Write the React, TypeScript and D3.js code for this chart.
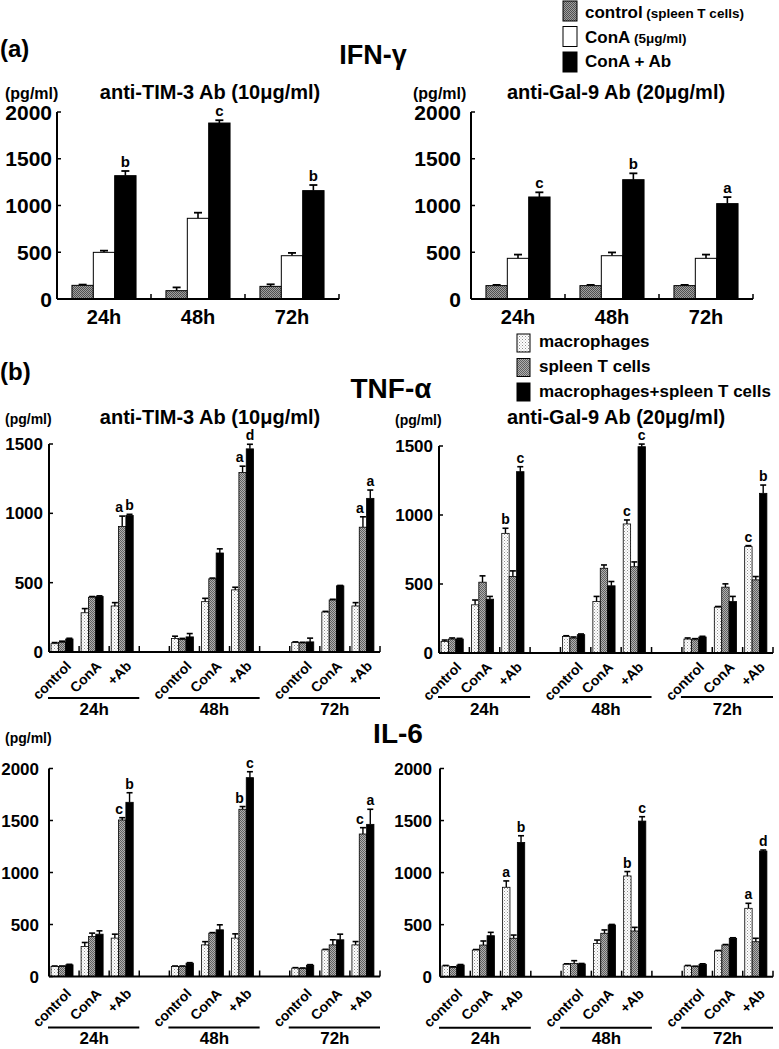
import React from "react";
import * as d3 from "d3";

const FONT = "'Liberation Sans', Arial, Helvetica, sans-serif";

// ---------- (a) IFN-γ ----------
const ifnTimes = ["24h", "48h", "72h"];
const ifnSeries = ["control", "ConA", "ConA + Ab"];
const ifnTicks = [0, 500, 1000, 1500, 2000];

const ifnTim3Control = [146, 89, 135];
const ifnTim3ConA = [499, 863, 463];
const ifnTim3Ab = [1319, 1882, 1159];
const ifnTim3ControlErr = [8, 35, 22];
const ifnTim3ConAErr = [18, 60, 30];
const ifnTim3AbErr = [50, 30, 60];
const ifnTim3Letters = ["b", "c", "b"];

const ifnGal9Control = [143, 143, 143];
const ifnGal9ConA = [435, 463, 435];
const ifnGal9Ab = [1091, 1276, 1020];
const ifnGal9ControlErr = [8, 8, 8];
const ifnGal9ConAErr = [40, 35, 40];
const ifnGal9AbErr = [50, 68, 70];
const ifnGal9Letters = ["c", "b", "a"];

// ---------- (b) TNF-α and IL-6 ----------
const bTimes = ["24h", "48h", "72h"];
const bConds = ["control", "ConA", "+Ab"];
const bSeries = ["macrophages", "spleen T cells", "macrophages+spleen T cells"];
const tnfTicks = [0, 500, 1000, 1500];
const il6Ticks = [0, 500, 1000, 1500, 2000];

// values ordered: 24h control, ConA, +Ab, 48h control, ConA, +Ab, 72h control, ConA, +Ab
const tnfTim3Mac = [60, 283, 332, 97, 363, 448, 68, 288, 332];
const tnfTim3MacErr = [8, 30, 24, 17, 24, 19, 5, 5, 24];
const tnfTim3T = [70, 395, 905, 90, 528, 1295, 65, 375, 900];
const tnfTim3TErr = [8, 5, 75, 8, 5, 45, 5, 5, 75];
const tnfTim3MT = [94, 400, 985, 109, 714, 1465, 73, 477, 1108];
const tnfTim3MTErr = [5, 5, 8, 24, 30, 33, 27, 3, 60];
const tnfTim3LettersT = ["a", "a", "a"];
const tnfTim3LettersMT = ["b", "d", "a"];

const tnfGal9Mac = [84, 349, 867, 120, 373, 935, 101, 332, 771];
const tnfGal9MacErr = [10, 35, 37, 5, 37, 29, 8, 5, 7];
const tnfGal9T = [101, 513, 555, 108, 614, 625, 96, 477, 530];
const tnfGal9TErr = [8, 46, 40, 8, 24, 35, 8, 24, 24];
const tnfGal9MT = [101, 390, 1314, 133, 487, 1495, 116, 373, 1157];
const tnfGal9MTErr = [5, 20, 36, 5, 31, 19, 5, 37, 60];
const tnfGal9LettersMac = ["b", "c", "c"];
const tnfGal9LettersMT = ["c", "c", "b"];

const il6Tim3Mac = [96, 288, 369, 96, 304, 369, 80, 256, 304];
const il6Tim3MacErr = [5, 39, 38, 5, 31, 41, 5, 5, 32];
const il6Tim3T = [96, 385, 1505, 96, 417, 1608, 77, 304, 1370];
const il6Tim3TErr = [5, 32, 22, 5, 5, 26, 5, 49, 61];
const il6Tim3MT = [112, 407, 1675, 128, 449, 1912, 109, 353, 1463];
const il6Tim3MTErr = [5, 32, 92, 5, 48, 57, 5, 54, 145];
const il6Tim3LettersT = ["c", "b", "c"];
const il6Tim3LettersMT = ["b", "c", "a"];

const il6Gal9Mac = [103, 256, 859, 119, 320, 968, 103, 247, 657];
const il6Gal9MacErr = [5, 5, 61, 5, 32, 42, 5, 5, 48];
const il6Gal9T = [90, 304, 369, 128, 417, 439, 96, 304, 336];
const il6Gal9TErr = [5, 39, 31, 26, 32, 35, 5, 5, 33];
const il6Gal9MT = [112, 394, 1290, 122, 497, 1495, 119, 369, 1207];
const il6Gal9MTErr = [5, 32, 64, 5, 5, 42, 5, 5, 10];
const il6Gal9LettersMac = ["a", "b", "a"];
const il6Gal9LettersMT = ["b", "c", "d"];

const legendA = [
  { main: "control", sub: " (spleen T cells)" },
  { main: "ConA", sub: " (5\u03bcg/ml)" },
  { main: "ConA + Ab", sub: "" },
];

const fillsA = ["url(#texDark)", "#ffffff", "#000000"];
const fillsB = ["url(#dots)", "url(#texMid)", "#000000"];

type PanelAProps = {
  x0: number; x1: number; y0: number; yTop: number; labelGap: number;
  values: number[][]; errors: number[][]; letters: string[];
};

function PanelA({ x0, x1, y0, yTop, labelGap, values, errors, letters }: PanelAProps) {
  const x = d3.scaleBand<string>().domain(ifnTimes).range([x0, x1]);
  const xs = d3.scaleBand<string>().domain(ifnSeries).range([0, x.bandwidth()]).paddingOuter(0.7);
  const y = d3.scaleLinear().domain([0, 2000]).range([y0, yTop]);
  const w = xs.bandwidth();
  return (
    <g>
      {ifnSeries.map((s, si) =>
        ifnTimes.map((t, ti) => {
          const v = values[si][ti];
          const e = errors[si][ti];
          const bx = (x(t) as number) + (xs(s) as number);
          const cx = bx + w / 2;
          return (
            <g key={s + t}>
              <line x1={cx} x2={cx} y1={y(v)} y2={y(v + e)} stroke="#000" strokeWidth={1.6} />
              <line x1={cx - 4} x2={cx + 4} y1={y(v + e)} y2={y(v + e)} stroke="#000" strokeWidth={1.8} />
              <rect x={bx} y={y(v)} width={w} height={y0 - y(v)} fill={fillsA[si]} stroke="#000" strokeWidth={1} />
              {si === 2 && (
                <text x={cx} y={y(v + e) - 4} textAnchor="middle" fontSize={15} fontWeight="bold">
                  {letters[ti]}
                </text>
              )}
            </g>
          );
        })
      )}
      <line x1={x0} x2={x0} y1={y0} y2={yTop} stroke="#000" strokeWidth={2} />
      <line x1={x0} x2={x1} y1={y0} y2={y0} stroke="#000" strokeWidth={2} />
      {ifnTicks.map((tk) => (
        <g key={tk}>
          <line x1={x0} x2={x0 + 4} y1={y(tk)} y2={y(tk)} stroke="#000" strokeWidth={1.5} />
          <text x={x0 - labelGap} y={y(tk)} dy="0.36em" textAnchor="end" fontSize={21} fontWeight="bold">
            {tk}
          </text>
        </g>
      ))}
      {ifnTimes.map((t) => (
        <g key={t}>
          <line x1={(x(t) as number) + x.bandwidth()} x2={(x(t) as number) + x.bandwidth()} y1={y0} y2={y0 - 5} stroke="#000" strokeWidth={1.5} />
          <text x={(x(t) as number) + x.bandwidth() / 2} y={y0 + 25} textAnchor="middle" fontSize={20} fontWeight="bold">
            {t}
          </text>
        </g>
      ))}
    </g>
  );
}

type LetterSet = { series: number; labels: string[] };
type PanelBProps = {
  x0: number; x1: number; y0: number; yTop: number; max: number; ticks: number[]; labelGap: number;
  series: number[][]; errors: number[][]; letters: LetterSet[];
  underlineDy: number; labelDy: number; rotDy: number;
};

function PanelB({ x0, x1, y0, yTop, max, ticks, labelGap, series, errors, letters, underlineDy, labelDy, rotDy }: PanelBProps) {
  const xg = d3.scaleBand<string>().domain(bTimes).range([x0, x1]).paddingInner(0.25).paddingOuter(0);
  const xc = d3.scaleBand<string>().domain(bConds).range([0, xg.bandwidth()]);
  const xs = d3.scaleBand<string>().domain(bSeries).range([0, xc.bandwidth()]).paddingOuter(0.55).align(0.25);
  const y = d3.scaleLinear().domain([0, max]).range([y0, yTop]);
  const w = xs.bandwidth();
  const letterDx = [0, -3, 0];
  return (
    <g>
      {bTimes.map((t, ti) =>
        bConds.map((c, ci) =>
          bSeries.map((s, si) => {
            const idx = ti * 3 + ci;
            const v = series[si][idx];
            const e = errors[si][idx];
            const bx = (xg(t) as number) + (xc(c) as number) + (xs(s) as number);
            const cx = bx + w / 2;
            const ls = letters.find((l) => l.series === si);
            const letter = ci === 2 && ls ? ls.labels[ti] : null;
            return (
              <g key={t + c + s}>
                <line x1={cx} x2={cx} y1={y(v)} y2={y(v + e)} stroke="#000" strokeWidth={1.4} />
                <line x1={cx - 3} x2={cx + 3} y1={y(v + e)} y2={y(v + e)} stroke="#000" strokeWidth={1.6} />
                <rect x={bx} y={y(v)} width={w} height={y0 - y(v)} fill={fillsB[si]} stroke="#000" strokeWidth={0.8} />
                {letter && (
                  <text x={cx + letterDx[si]} y={y(v + e) - 4} textAnchor="middle" fontSize={14} fontWeight="bold">
                    {letter}
                  </text>
                )}
              </g>
            );
          })
        )
      )}
      <line x1={x0} x2={x0} y1={y0} y2={yTop} stroke="#000" strokeWidth={2} />
      <line x1={x0} x2={x1} y1={y0} y2={y0} stroke="#000" strokeWidth={2} />
      {ticks.map((tk) => (
        <g key={tk}>
          <line x1={x0} x2={x0 + 4} y1={y(tk)} y2={y(tk)} stroke="#000" strokeWidth={1.5} />
          <text x={x0 - labelGap} y={y(tk)} dy="0.36em" textAnchor="end" fontSize={17} fontWeight="bold">
            {tk}
          </text>
        </g>
      ))}
      {bTimes.map((t, ti) => {
        const gx = xg(t) as number;
        return (
          <g key={t}>
            {ti > 0 && <line x1={gx} x2={gx} y1={y0} y2={y0 - 6} stroke="#000" strokeWidth={1.5} />}
            {bConds.map((c) => {
              const cx0 = gx + (xc(c) as number);
              const ex = cx0 + xc.bandwidth();
              const mid = cx0 + xc.bandwidth() / 2;
              return (
                <g key={c}>
                  <line x1={ex} x2={ex} y1={y0} y2={y0 - 6} stroke="#000" strokeWidth={1.5} />
                  <text
                    transform={`translate(${mid + 8},${y0 + rotDy}) rotate(-45)`}
                    textAnchor="end"
                    fontSize={14}
                    fontWeight="bold"
                  >
                    {c}
                  </text>
                </g>
              );
            })}
            <line x1={gx - 1} x2={gx + xg.bandwidth()} y1={y0 + underlineDy} y2={y0 + underlineDy} stroke="#000" strokeWidth={2} />
            <text x={gx + xg.bandwidth() / 2} y={y0 + labelDy} textAnchor="middle" fontSize={17} fontWeight="bold">
              {t}
            </text>
          </g>
        );
      })}
    </g>
  );
}

export default function App() {
  return (
    <svg
      width={779}
      height={1049}
      style={{ position: "absolute", left: 0, top: 0, background: "#fff" }}
      fontFamily={FONT}
    >
      <defs>
        <pattern id="texDark" width={2} height={2} patternUnits="userSpaceOnUse">
          <rect width={2} height={2} fill="#a0a0a0" />
          <rect width={1} height={1} fill="#505050" />
          <rect x={1} y={1} width={1} height={1} fill="#505050" />
        </pattern>
        <pattern id="texMid" width={2} height={2} patternUnits="userSpaceOnUse">
          <rect width={2} height={2} fill="#b0b0b0" />
          <rect width={1} height={1} fill="#606060" />
          <rect x={1} y={1} width={1} height={1} fill="#606060" />
        </pattern>
        <pattern id="dots" width={3} height={3} patternUnits="userSpaceOnUse">
          <rect width={3} height={3} fill="#ffffff" />
          <rect width={1} height={1} fill="#909090" />
          <rect x={1.5} y={1.5} width={1} height={1} fill="#b0b0b0" />
        </pattern>
      </defs>
      <rect width={779} height={1049} fill="#fff" />

      {/* (a) */}
      <text x={0} y={57} fontSize={24} fontWeight="bold">(a)</text>
      <text x={373} y={64} textAnchor="middle" fontSize={27} fontWeight="bold">IFN-{"\u03b3"}</text>
      {legendA.map((l, i) => (
        <g key={l.main}>
          <rect x={563} y={1 + i * 25.5} width={14} height={20} fill={fillsA[i]} stroke="#000" strokeWidth={1} />
          <text x={585} y={18 + i * 24.5} fontSize={17} fontWeight="bold">
            {l.main}
            <tspan fontSize={13.5}>{l.sub}</tspan>
          </text>
        </g>
      ))}
      <text x={5} y={99} fontSize={16} fontWeight="bold">(pg/ml)</text>
      <text x={210} y={99} textAnchor="middle" fontSize={20} fontWeight="bold">anti-TIM-3 Ab (10{"\u03bc"}g/ml)</text>
      <text x={413} y={99} fontSize={16} fontWeight="bold">(pg/ml)</text>
      <text x={616} y={99} textAnchor="middle" fontSize={20} fontWeight="bold">anti-Gal-9 Ab (20{"\u03bc"}g/ml)</text>
      <PanelA
        x0={57} x1={339} y0={299} yTop={112} labelGap={5}
        values={[ifnTim3Control, ifnTim3ConA, ifnTim3Ab]}
        errors={[ifnTim3ControlErr, ifnTim3ConAErr, ifnTim3AbErr]}
        letters={ifnTim3Letters}
      />
      <PanelA
        x0={471} x1={753} y0={299} yTop={112} labelGap={10}
        values={[ifnGal9Control, ifnGal9ConA, ifnGal9Ab]}
        errors={[ifnGal9ControlErr, ifnGal9ConAErr, ifnGal9AbErr]}
        letters={ifnGal9Letters}
      />

      {/* (b) */}
      <text x={0} y={380} fontSize={24} fontWeight="bold">(b)</text>
      {bSeries.map((s, i) => (
        <g key={s}>
          <rect x={517} y={334 + i * 24.5} width={13} height={18} fill={fillsB[i]} stroke="#000" strokeWidth={1} />
          <text x={539} y={347 + i * 25} fontSize={17} fontWeight="bold">{s}</text>
        </g>
      ))}
      <text x={391} y={398} textAnchor="middle" fontSize={28} fontWeight="bold">TNF-{"\u03b1"}</text>
      <text x={5} y={424} fontSize={14} fontWeight="bold">(pg/ml)</text>
      <text x={210} y={424} textAnchor="middle" fontSize={20} fontWeight="bold">anti-TIM-3 Ab (10{"\u03bc"}g/ml)</text>
      <text x={395} y={425} fontSize={14} fontWeight="bold">(pg/ml)</text>
      <text x={616} y={424} textAnchor="middle" fontSize={20} fontWeight="bold">anti-Gal-9 Ab (20{"\u03bc"}g/ml)</text>

      <PanelB
        x0={49} x1={380} y0={652} yTop={444} max={1500} ticks={tnfTicks} labelGap={6}
        series={[tnfTim3Mac, tnfTim3T, tnfTim3MT]}
        errors={[tnfTim3MacErr, tnfTim3TErr, tnfTim3MTErr]}
        letters={[{ series: 1, labels: tnfTim3LettersT }, { series: 2, labels: tnfTim3LettersMT }]}
        underlineDy={46} labelDy={63} rotDy={15}
      />
      <PanelB
        x0={439} x1={773} y0={653} yTop={446} max={1500} ticks={tnfTicks} labelGap={6}
        series={[tnfGal9Mac, tnfGal9T, tnfGal9MT]}
        errors={[tnfGal9MacErr, tnfGal9TErr, tnfGal9MTErr]}
        letters={[{ series: 0, labels: tnfGal9LettersMac }, { series: 2, labels: tnfGal9LettersMT }]}
        underlineDy={44} labelDy={62} rotDy={15}
      />

      <text x={398} y={743} textAnchor="middle" fontSize={28} fontWeight="bold">IL-6</text>
      <text x={5} y={743} fontSize={14} fontWeight="bold">(pg/ml)</text>
      <PanelB
        x0={49} x1={380} y0={976.5} yTop={768.5} max={2000} ticks={il6Ticks} labelGap={10}
        series={[il6Tim3Mac, il6Tim3T, il6Tim3MT]}
        errors={[il6Tim3MacErr, il6Tim3TErr, il6Tim3MTErr]}
        letters={[{ series: 1, labels: il6Tim3LettersT }, { series: 2, labels: il6Tim3LettersMT }]}
        underlineDy={51} labelDy={67.5} rotDy={18}
      />
      <PanelB
        x0={440} x1={773} y0={976.7} yTop={768.5} max={2000} ticks={il6Ticks} labelGap={8}
        series={[il6Gal9Mac, il6Gal9T, il6Gal9MT]}
        errors={[il6Gal9MacErr, il6Gal9TErr, il6Gal9MTErr]}
        letters={[{ series: 0, labels: il6Gal9LettersMac }, { series: 2, labels: il6Gal9LettersMT }]}
        underlineDy={51} labelDy={67.5} rotDy={18}
      />
    </svg>
  );
}
